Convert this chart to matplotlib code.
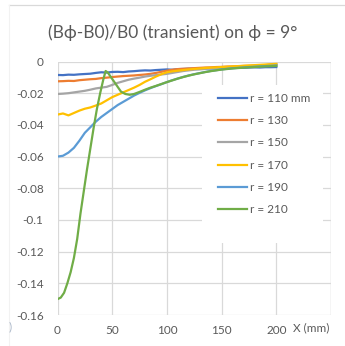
import matplotlib
matplotlib.use("Agg")
import matplotlib.pyplot as plt
from matplotlib.patches import Rectangle
from matplotlib.lines import Line2D

plt.rcParams['font.family'] = ['Lato', 'DejaVu Sans']

# x positions (mm) shared by most curves
x_mm = [0, 5, 10, 15, 20, 25, 30, 35, 40, 45, 50, 55, 60, 65, 70, 75, 80, 85, 90, 95, 100,
        105, 110, 115, 120, 125, 130, 135, 140, 145, 150, 155, 160, 165, 170, 175, 180, 185,
        190, 195, 200]

r110 = [-0.0085, -0.0086, -0.0083, -0.0084, -0.0081, -0.0079, -0.0077, -0.0072, -0.0068, -0.0070,
        -0.0066, -0.0065, -0.0067, -0.0063, -0.0061, -0.0058, -0.0056, -0.0057, -0.0054, -0.0052,
        -0.0050, -0.0052, -0.0048, -0.0047, -0.0045, -0.0046, -0.0044, -0.0043, -0.0044, -0.0042,
        -0.0041, -0.0042, -0.0040, -0.0039, -0.0040, -0.0038, -0.0037, -0.0038, -0.0036, -0.0036,
        -0.0035]
r130 = [-0.0125, -0.0124, -0.0122, -0.0123, -0.0118, -0.0115, -0.0112, -0.0110, -0.0105, -0.0102,
        -0.0098, -0.0095, -0.0092, -0.0090, -0.0088, -0.0085, -0.0082, -0.0078, -0.0072, -0.0065,
        -0.0058, -0.0052, -0.0048, -0.0046, -0.0044, -0.0042, -0.0040, -0.0038, -0.0037, -0.0035,
        -0.0034, -0.0032, -0.0031, -0.0030, -0.0028, -0.0027, -0.0026, -0.0024, -0.0023, -0.0021,
        -0.0020]
r150 = [-0.0205, -0.0203, -0.0200, -0.0195, -0.0190, -0.0185, -0.0178, -0.0170, -0.0165, -0.0160,
        -0.0148, -0.0135, -0.0125, -0.0115, -0.0108, -0.0102, -0.0095, -0.0090, -0.0086, -0.0082,
        -0.0078, -0.0072, -0.0066, -0.0060, -0.0056, -0.0052, -0.0050, -0.0047, -0.0044, -0.0042,
        -0.0040, -0.0038, -0.0036, -0.0034, -0.0032, -0.0030, -0.0028, -0.0026, -0.0023, -0.0020,
        -0.0018]
r170 = [-0.0335, -0.0328, -0.0340, -0.0325, -0.0310, -0.0298, -0.0290, -0.0278, -0.0265, -0.0245,
        -0.0225, -0.0210, -0.0195, -0.0180, -0.0165, -0.0148, -0.0128, -0.0112, -0.0095, -0.0080,
        -0.0068, -0.0062, -0.0058, -0.0054, -0.0050, -0.0047, -0.0044, -0.0041, -0.0039, -0.0037,
        -0.0035, -0.0033, -0.0031, -0.0029, -0.0027, -0.0025, -0.0023, -0.0021, -0.0019, -0.0017,
        -0.0015]
r190 = [-0.0600, -0.0595, -0.0575, -0.0545, -0.0500, -0.0450, -0.0415, -0.0380, -0.0350, -0.0325,
        -0.0300, -0.0275, -0.0255, -0.0235, -0.0215, -0.0198, -0.0182, -0.0168, -0.0155, -0.0143,
        -0.0130, -0.0118, -0.0107, -0.0097, -0.0088, -0.0080, -0.0073, -0.0066, -0.0060, -0.0055,
        -0.0050, -0.0046, -0.0043, -0.0040, -0.0038, -0.0035, -0.0033, -0.0031, -0.0029, -0.0027,
        -0.0025]

# r = 210 has a sharp peak, so it gets its own x positions
x210 = [0, 3, 6, 9, 12, 15, 18, 21, 24, 27, 30, 33, 36, 39, 42, 44, 46, 49, 52, 55, 58, 62, 66,
        70, 75, 80, 85, 90, 95, 100, 105, 110, 115, 120, 125, 130, 135, 140, 145, 150, 160, 170,
        180, 190, 200]
r210 = [-0.150, -0.149, -0.146, -0.140, -0.133, -0.124, -0.112, -0.096, -0.082, -0.068, -0.055,
        -0.042, -0.030, -0.020, -0.011, -0.006, -0.007, -0.010, -0.013, -0.016, -0.019, -0.0205,
        -0.021, -0.0205, -0.0192, -0.0178, -0.0165, -0.0154, -0.0142, -0.0130, -0.0119, -0.0108,
        -0.0098, -0.0089, -0.0081, -0.0074, -0.0067, -0.0061, -0.0056, -0.0051, -0.0044, -0.0039,
        -0.0035, -0.0031, -0.0028]

labels = ['r = 110 mm', 'r = 130', 'r = 150', 'r = 170', 'r = 190', 'r = 210']
colors = ['#4472C4', '#ED7D31', '#A5A5A5', '#FFC000', '#5B9BD5', '#70AD47']

y_ticks = [0, -0.02, -0.04, -0.06, -0.08, -0.1, -0.12, -0.14, -0.16]
y_tick_labels = ['0', '-0.02', '-0.04', '-0.06', '-0.08', '-0.1', '-0.12', '-0.14', '-0.16']
x_ticks = [0, 50, 100, 150, 200, 250]
x_tick_labels = ['0', '50', '100', '150', '200', '']

txt = '#595959'
grid = '#D9D9D9'

fig = plt.figure(figsize=(3.45, 3.46), dpi=100)
ax = fig.add_axes([57.5 / 345, 1 - 315 / 346, (331 - 57.5) / 345, (315 - 61.5) / 346])

series = [(x_mm, r110), (x_mm, r130), (x_mm, r150), (x_mm, r170), (x_mm, r190), (x210, r210)]
for (xs, ys), lab, c in zip(series, labels, colors):
    ax.plot(xs, ys, color=c, lw=1.6, label=lab, zorder=3)

ax.set_xlim(0, 250)
ax.set_ylim(-0.16, 0)
ax.set_xticks(x_ticks)
ax.set_xticklabels(x_tick_labels)
ax.set_yticks(y_ticks)
ax.set_yticklabels(y_tick_labels)
ax.tick_params(length=0, labelsize=8.5, labelcolor=txt)
ax.tick_params(axis='y', pad=10)
ax.tick_params(axis='x', pad=7)
ax.grid(True, color=grid, lw=0.9)
ax.set_axisbelow(True)
for s in ax.spines.values():
    s.set_visible(False)
ax.axvline(250, color=grid, lw=0.9, zorder=0.5)

# white area behind the legend hides the gridlines
ax.add_patch(Rectangle((0.528, 0.284), 0.443, 0.623, transform=ax.transAxes,
                       facecolor='white', edgecolor='none', zorder=1))

leg = ax.legend(loc='upper left', bbox_to_anchor=(218 / 345, 1 - 93 / 346),
                bbox_transform=fig.transFigure, frameon=False, fontsize=8.5,
                handlelength=2.45, handletextpad=0.25, labelspacing=0.95,
                borderpad=0, borderaxespad=0)
for t in leg.get_texts():
    t.set_color(txt)

fig.text(0.5, 1 - 33 / 346, '(B\u03d5-B0)/B0 (transient) on \u03d5 = 9\u00b0',
         ha='center', va='center', fontsize=12.5, color=txt)
fig.text(293 / 345, 1 - 328 / 346, 'X (mm)', ha='left', va='center', fontsize=8.5, color=txt)
fig.text(9 / 345, 1 - 327 / 346, ')', ha='left', va='center', fontsize=8.5, color='#A9B6C8')

# faint chart border
fig.add_artist(Line2D([9 / 345, 1], [1 - 5 / 346, 1 - 5 / 346], color='#D9D9D9', lw=0.9))
fig.add_artist(Line2D([9 / 345, 9 / 345], [0, 1 - 5 / 346], color='#F2F2F2', lw=0.8))

fig.savefig('out.png', dpi=100)
